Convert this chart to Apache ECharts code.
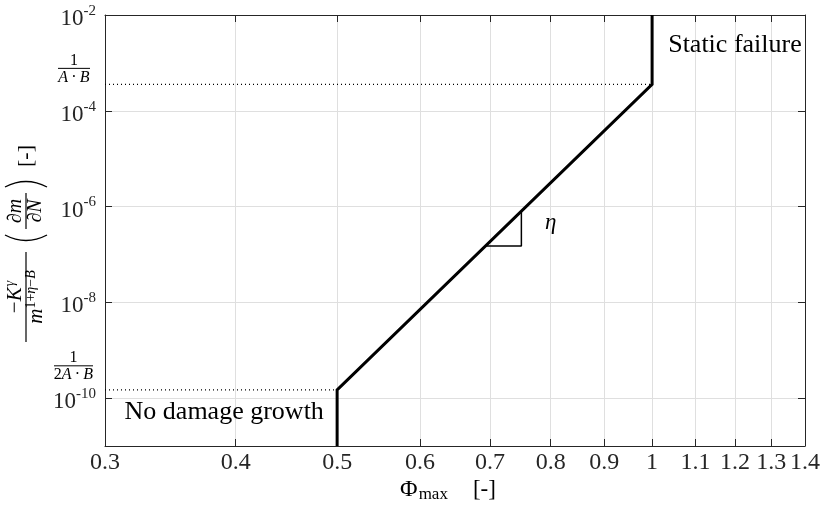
<!DOCTYPE html>
<html>
<head>
<meta charset="utf-8">
<script src="https://cdn.jsdelivr.net/npm/echarts@6/dist/echarts.min.js"></script>
<style>
  html, body { margin: 0; padding: 0; background: #ffffff; }
  #chart { width: 823px; height: 518px; }
</style>
</head>
<body>
<div id="chart"></div>
<script>
// Axis ranges and tick positions
const xRange = [0.3, 1.4];
const yRange = [1e-11, 1e-2];
const xTicks = [0.3, 0.4, 0.5, 0.6, 0.7, 0.8, 0.9, 1, 1.1, 1.2, 1.3, 1.4];
const yTicks = [1e-10, 1e-8, 1e-6, 1e-4, 1e-2];

// Characteristic levels: 1/(A·B) and 1/(2A·B)
const yStatic = 3.56e-4;
const yThreshold = 1.49e-10;

// Damage growth curve: threshold at Φ = 0.5, static failure at Φ = 1
const growthCurve = [[0.5, 1e-11], [0.5, 1.49e-10], [1, 3.56e-4], [1, 1e-2]];
const staticGuide = [[0.3, 3.56e-4], [1, 3.56e-4]];
const thresholdGuide = [[0.3, 1.49e-10], [0.5, 1.49e-10]];
const slopeTriangle = [[0.693, 1.5e-7], [0.75, 1.5e-7], [0.75, 8.0e-7]];

// Text annotations anchored in data space
const staticLabelAt = [1.036, 2.4e-3];
const noGrowthLabelAt = [0.39, 5.1e-11];
const etaLabelAt = [0.8, 4.5e-7];

const serif = 'Liberation Serif';
const axisColor = '#262626';
const gridColor = '#dfdfdf';

const chart = echarts.init(document.getElementById('chart'), null, { renderer: 'canvas' });

function xFmt(v) { return String(Math.round(v * 10) / 10); }
function yFmt(v) { return '{b|10}{s|' + Math.round(Math.log10(v)) + '}'; }

const baseX = {
  type: 'log', logBase: 10, min: xRange[0], max: xRange[1],
  axisLine: { show: true, onZero: false, lineStyle: { color: axisColor, width: 1 } },
  axisTick: { show: true, inside: true, length: 7, customValues: xTicks, lineStyle: { color: axisColor, width: 1 } },
  minorTick: { show: false },
  minorSplitLine: { show: false }
};
const baseY = {
  type: 'log', logBase: 10, min: yRange[0], max: yRange[1],
  axisLine: { show: true, onZero: false, lineStyle: { color: axisColor, width: 1 } },
  axisTick: { show: true, inside: true, length: 7, customValues: yTicks, lineStyle: { color: axisColor, width: 1 } },
  minorTick: { show: false },
  minorSplitLine: { show: false }
};

chart.setOption({
  animation: false,
  backgroundColor: '#ffffff',
  grid: { left: 105, right: 12, top: 15, bottom: 72, containLabel: false },
  xAxis: [
    Object.assign({}, baseX, {
      position: 'bottom',
      axisLabel: { show: true, customValues: xTicks, formatter: xFmt, color: axisColor, fontFamily: serif, fontSize: 24, margin: 5 },
      splitLine: { show: true, lineStyle: { color: gridColor, width: 1 } }
    }),
    Object.assign({}, baseX, {
      position: 'top',
      axisLabel: { show: false },
      splitLine: { show: false }
    })
  ],
  yAxis: [
    Object.assign({}, baseY, {
      position: 'left',
      axisLabel: {
        show: true, customValues: yTicks, formatter: yFmt, margin: 9,
        rich: {
          b: { fontFamily: serif, fontSize: 23, color: axisColor, padding: [8, 0, 0, 0] },
          s: { fontFamily: serif, fontSize: 15, color: axisColor, padding: [0, 0, 8, 0] }
        }
      },
      splitLine: { show: true, lineStyle: { color: gridColor, width: 1 } }
    }),
    Object.assign({}, baseY, {
      position: 'right',
      axisLabel: { show: false },
      splitLine: { show: false }
    })
  ],
  series: [
    {
      type: 'line', xAxisIndex: 0, yAxisIndex: 0, data: staticGuide, symbol: 'none', z: 3,
      lineStyle: { color: '#000', width: 1.2, type: [1, 3] }
    },
    {
      type: 'line', xAxisIndex: 0, yAxisIndex: 0, data: thresholdGuide, symbol: 'none', z: 3,
      lineStyle: { color: '#000', width: 1.2, type: [1, 3] }
    },
    {
      type: 'line', xAxisIndex: 0, yAxisIndex: 0, data: slopeTriangle, symbol: 'none', z: 4,
      lineStyle: { color: '#000', width: 1.5 }
    },
    {
      type: 'line', xAxisIndex: 0, yAxisIndex: 0, data: growthCurve, symbol: 'none', z: 5,
      lineStyle: { color: '#000', width: 3, join: 'miter' }
    }
  ]
});

function px(pt) { return chart.convertToPixel({ seriesIndex: 3 }, pt); }

const pStatic = px([xRange[0], yStatic]);
const pThreshold = px([xRange[0], yThreshold]);
const pStaticLabel = px(staticLabelAt);
const pNoGrowth = px(noGrowthLabelAt);
const pEta = px(etaLabelAt);

const ink = '#000';
const italic = { fontFamily: serif, fontStyle: 'italic', fill: ink };
const upright = { fontFamily: serif, fill: ink };

function txt(x, y, text, rich, extra) {
  return Object.assign({
    type: 'text', x: x, y: y,
    style: { text: text, rich: rich, align: 'center', verticalAlign: 'middle', fontFamily: serif, fill: ink }
  }, extra || {});
}

// Fraction labels beside the y axis
function fractionLabel(cx, barY, halfWidth, denomText) {
  return {
    type: 'group', x: cx, y: barY,
    children: [
      { type: 'line', shape: { x1: -halfWidth, y1: 0, x2: halfWidth, y2: 0 }, style: { stroke: ink, lineWidth: 1 } },
      txt(0, -8, '{u|1}', { u: Object.assign({ fontSize: 16 }, upright) }),
      txt(0, 9, denomText, {
        u: Object.assign({ fontSize: 16 }, upright),
        i: Object.assign({ fontSize: 16 }, italic)
      })
    ]
  };
}

// A tall bracket drawn as a quadratic curve (local coordinates of the title group)
function paren(x, bulge) {
  return {
    type: 'bezierCurve',
    shape: { x1: x, y1: -21, x2: x, y2: 21, cpx1: x + bulge, cpy1: 0 },
    style: { stroke: ink, fill: null, lineWidth: 1.4 }
  };
}

const graphics = [
  fractionLabel(74, pStatic[1] - 16, 16, '{i|A}{u|\u2009·\u2009}{i|B}'),
  fractionLabel(73.5, pThreshold[1] - 24, 19.5, '{u|2}{i|A}{u|\u2009·\u2009}{i|B}'),

  // Region annotations
  {
    type: 'text', x: pStaticLabel[0], y: pStaticLabel[1],
    style: { text: 'Static failure', fontFamily: serif, fontSize: 26, fill: ink, align: 'left', verticalAlign: 'middle' }
  },
  {
    type: 'text', x: pNoGrowth[0], y: pNoGrowth[1],
    style: { text: 'No damage growth', fontFamily: serif, fontSize: 26, fill: ink, align: 'center', verticalAlign: 'middle' }
  },
  {
    type: 'text', x: pEta[0], y: pEta[1],
    style: { text: 'η', fontFamily: serif, fontStyle: 'italic', fontSize: 23, fill: ink, align: 'center', verticalAlign: 'middle' }
  },

  // x-axis title: Φ_max [-]
  {
    type: 'text', x: 448, y: 490,
    style: {
      text: '{p|Φ}{s|max}{b|[-]}', align: 'center', verticalAlign: 'middle',
      rich: {
        p: Object.assign({ fontSize: 24 }, upright),
        s: Object.assign({ fontSize: 17, padding: [10, 0, 0, 1] }, upright),
        b: Object.assign({ fontSize: 23, padding: [0, 0, 0, 25] }, upright)
      }
    }
  },

  // y-axis title: −K^γ / m^(1+η−B) · (∂m/∂N) [-], rotated
  {
    type: 'group', x: 26, y: 250, rotation: Math.PI / 2,
    children: [
      { type: 'line', shape: { x1: -92, y1: 0, x2: -2, y2: 0 }, style: { stroke: ink, lineWidth: 1.2 } },
      txt(-47, -11, '{u|−}{i|K}{s|γ}', {
        u: Object.assign({ fontSize: 21 }, upright),
        i: Object.assign({ fontSize: 21 }, italic),
        s: Object.assign({ fontSize: 14, padding: [0, 0, 10, 1] }, italic)
      }),
      txt(-47, 10, '{i|m}{s|1+}{si|η}{s|−}{si|B}', {
        i: Object.assign({ fontSize: 21 }, italic),
        s: Object.assign({ fontSize: 14, padding: [0, 0, 10, 0] }, upright),
        si: Object.assign({ fontSize: 14, padding: [0, 0, 10, 0] }, italic)
      }),
      paren(15, -11),
      { type: 'line', shape: { x1: 21, y1: 0, x2: 57, y2: 0 }, style: { stroke: ink, lineWidth: 1.2 } },
      txt(39, -10, '{u|∂}{i|m}', {
        u: Object.assign({ fontSize: 20 }, italic),
        i: Object.assign({ fontSize: 20 }, italic)
      }),
      txt(39, 10, '{u|∂}{i|N}', {
        u: Object.assign({ fontSize: 20 }, italic),
        i: Object.assign({ fontSize: 20 }, italic)
      }),
      paren(63, 11),
      txt(94, 0, '{u|[-]}', { u: Object.assign({ fontSize: 22 }, upright) })
    ]
  }
];

chart.setOption({ graphic: graphics });
</script>
</body>
</html>
